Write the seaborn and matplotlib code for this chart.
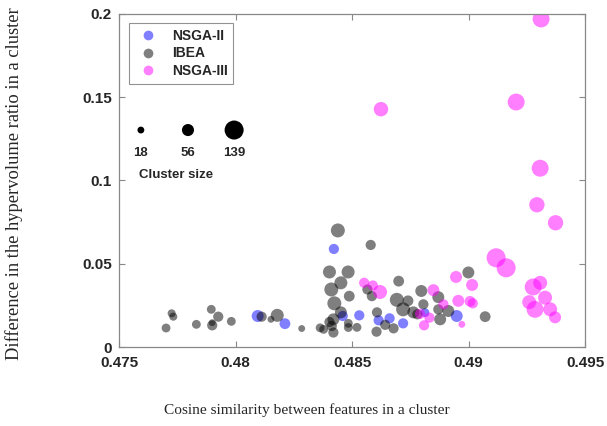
import numpy as np
import pandas as pd
import matplotlib
matplotlib.use("Agg")
import matplotlib.pyplot as plt
import seaborn as sns
from matplotlib.lines import Line2D

# ---------------- data ----------------
ibea_x = [0.48439, 0.48580, 0.48403, 0.48483, 0.48452, 0.48411, 0.48488, 0.48424,
          0.48452, 0.48420, 0.48403, 0.48413, 0.48363, 0.48378, 0.48420, 0.48484,
          0.48484, 0.48521, 0.48284, 0.47726, 0.47733, 0.47702, 0.47832, 0.47896,
          0.47926, 0.47900, 0.47900, 0.47982, 0.48112, 0.48152, 0.48179, 0.48566,
          0.48585, 0.48700, 0.48797, 0.48692, 0.48740, 0.48719, 0.48763, 0.48780,
          0.48806, 0.48607, 0.48642, 0.48678, 0.48605, 0.48999, 0.48870, 0.48913,
          0.48870, 0.48878, 0.49071]
ibea_y = [0.0700, 0.0613, 0.0451, 0.0451, 0.0386, 0.0346, 0.0306, 0.0263,
          0.0209, 0.0167, 0.0151, 0.0127, 0.0116, 0.0107, 0.0088, 0.0143,
          0.0118, 0.0119, 0.0112, 0.0203, 0.0183, 0.0115, 0.0137, 0.0227,
          0.0183, 0.0147, 0.0131, 0.0155, 0.0183, 0.0167, 0.0191, 0.0346,
          0.0306, 0.0396, 0.0337, 0.0284, 0.0278, 0.0227, 0.0209, 0.0197,
          0.0257, 0.0209, 0.0134, 0.0113, 0.0093, 0.0448, 0.0300, 0.0217,
          0.0227, 0.0167, 0.0183]
ibea_size = [75, 40, 65, 65, 65, 75, 45, 75,
             55, 55, 40, 40, 30, 30, 40, 30,
             30, 30, 18, 25, 25, 30, 30, 30,
             40, 18, 40, 30, 40, 18, 65, 40,
             40, 45, 55, 75, 45, 75, 55, 40,
             40, 40, 40, 40, 40, 55, 55, 55,
             40, 55, 45]

nsga2_x = [0.48422, 0.48460, 0.48531, 0.48095, 0.48212, 0.48614, 0.48661,
           0.48719, 0.48813, 0.48949]
nsga2_y = [0.0589, 0.0187, 0.0191, 0.0187, 0.0141, 0.0161, 0.0173,
           0.0143, 0.0207, 0.0187]
nsga2_size = [40, 40, 40, 55, 45, 40, 40, 40, 30, 55]

nsga3_x = [0.49311, 0.49204, 0.49307, 0.49293, 0.49373, 0.48624, 0.49118, 0.49161,
           0.49277, 0.49307, 0.49328, 0.49260, 0.49285, 0.49350, 0.49371, 0.48946,
           0.49015, 0.48956, 0.49006, 0.49018, 0.48971, 0.48849, 0.48892, 0.48832,
           0.48809, 0.48792, 0.48552, 0.48589, 0.48620]
nsga3_y = [0.1968, 0.1470, 0.1073, 0.0854, 0.0746, 0.1427, 0.0536, 0.0476,
           0.0361, 0.0386, 0.0297, 0.0270, 0.0227, 0.0227, 0.0179, 0.0421,
           0.0373, 0.0278, 0.0275, 0.0263, 0.0137, 0.0342, 0.0257, 0.0177,
           0.0131, 0.0200, 0.0386, 0.0370, 0.0331]
nsga3_size = [110, 110, 110, 90, 90, 80, 139, 139,
              110, 75, 75, 75, 110, 75, 55, 55,
              55, 55, 45, 40, 18, 55, 40, 40,
              40, 40, 40, 40, 75]

algorithms = ["NSGA-II", "IBEA", "NSGA-III"]
colors = ["#0000ff", "#000000", "#ff00ff"]
legend_sizes = [18, 56, 139]
x_ticks = [0.475, 0.48, 0.485, 0.49, 0.495]
x_ticklabels = ["0.475", "0.48", "0.485", "0.49", "0.495"]
y_ticks = [0, 0.05, 0.1, 0.15, 0.2]
y_ticklabels = ["0", "0.05", "0.1", "0.15", "0.2"]

df = pd.concat([
    pd.DataFrame({"x": nsga2_x, "y": nsga2_y, "size": nsga2_size, "algo": "NSGA-II"}),
    pd.DataFrame({"x": ibea_x, "y": ibea_y, "size": ibea_size, "algo": "IBEA"}),
    pd.DataFrame({"x": nsga3_x, "y": nsga3_y, "size": nsga3_size, "algo": "NSGA-III"}),
], ignore_index=True)

# ---------------- plot ----------------
sns.set_style("white")
plt.rcParams["font.family"] = ["Liberation Sans", "DejaVu Sans"]

K = 1.35  # points^2 per cluster member
fig = plt.figure(figsize=(6.07, 4.26), dpi=100)
ax = fig.add_axes([0.196, 0.185, 0.768, 0.783])

sns.scatterplot(data=df, x="x", y="y", hue="algo", size="size",
                hue_order=algorithms, palette=dict(zip(algorithms, colors)),
                sizes=(0, K * 139), size_norm=(0, 139),
                alpha=0.5, linewidth=0, legend=False, ax=ax)

ax.set_xlim(0.475, 0.495)
ax.set_ylim(0, 0.2)
ax.set_xticks(x_ticks)
ax.set_xticklabels(x_ticklabels, fontweight="bold", fontsize=11)
ax.set_yticks(y_ticks)
ax.set_yticklabels(y_ticklabels, fontweight="bold", fontsize=11)
ax.tick_params(direction="in", length=4, width=0.8, color="#888888",
               top=True, right=True, bottom=True, left=True, pad=5)
ax.tick_params(axis="x", pad=6)
for sp in ax.spines.values():
    sp.set_color("#888888")
    sp.set_linewidth(0.9)

ax.set_xlabel("Cosine similarity between features in a cluster",
              family="Liberation Serif", fontsize=11.1)
ax.set_ylabel("Difference in the hypervolume ratio in a cluster",
              family="Liberation Serif", fontsize=13.3)
ax.xaxis.set_label_coords(0.403, -0.168)
ax.yaxis.set_label_coords(-0.205, 0.49)

# algorithm legend
handles = [Line2D([], [], marker="o", linestyle="none", markersize=7,
                  markerfacecolor=c, markeredgewidth=0, alpha=0.5, label=a)
           for a, c in zip(algorithms, colors)]
leg = ax.legend(handles=handles, loc="upper left", bbox_to_anchor=(0.021, 0.972),
                borderaxespad=0, frameon=True, fancybox=False, edgecolor="#777777",
                prop={"weight": "bold", "size": 10}, handletextpad=0.7,
                borderpad=0.4, labelspacing=0.28, handlelength=2.0)
leg.get_frame().set_linewidth(0.8)

# cluster size legend
lx = [0.047, 0.148, 0.247]
ax.scatter(lx, [0.651] * 3, s=[K * v for v in legend_sizes], color="black",
           transform=ax.transAxes, clip_on=False, zorder=5, linewidths=0)
for xx, v in zip(lx, legend_sizes):
    ax.text(xx, 0.582, str(v), transform=ax.transAxes, ha="center", va="center",
            fontweight="bold", fontsize=9.5)
ax.text(0.122, 0.516, "Cluster size", transform=ax.transAxes, ha="center",
        va="center", fontweight="bold", fontsize=9.5)

fig.savefig("out.png", dpi=100)
